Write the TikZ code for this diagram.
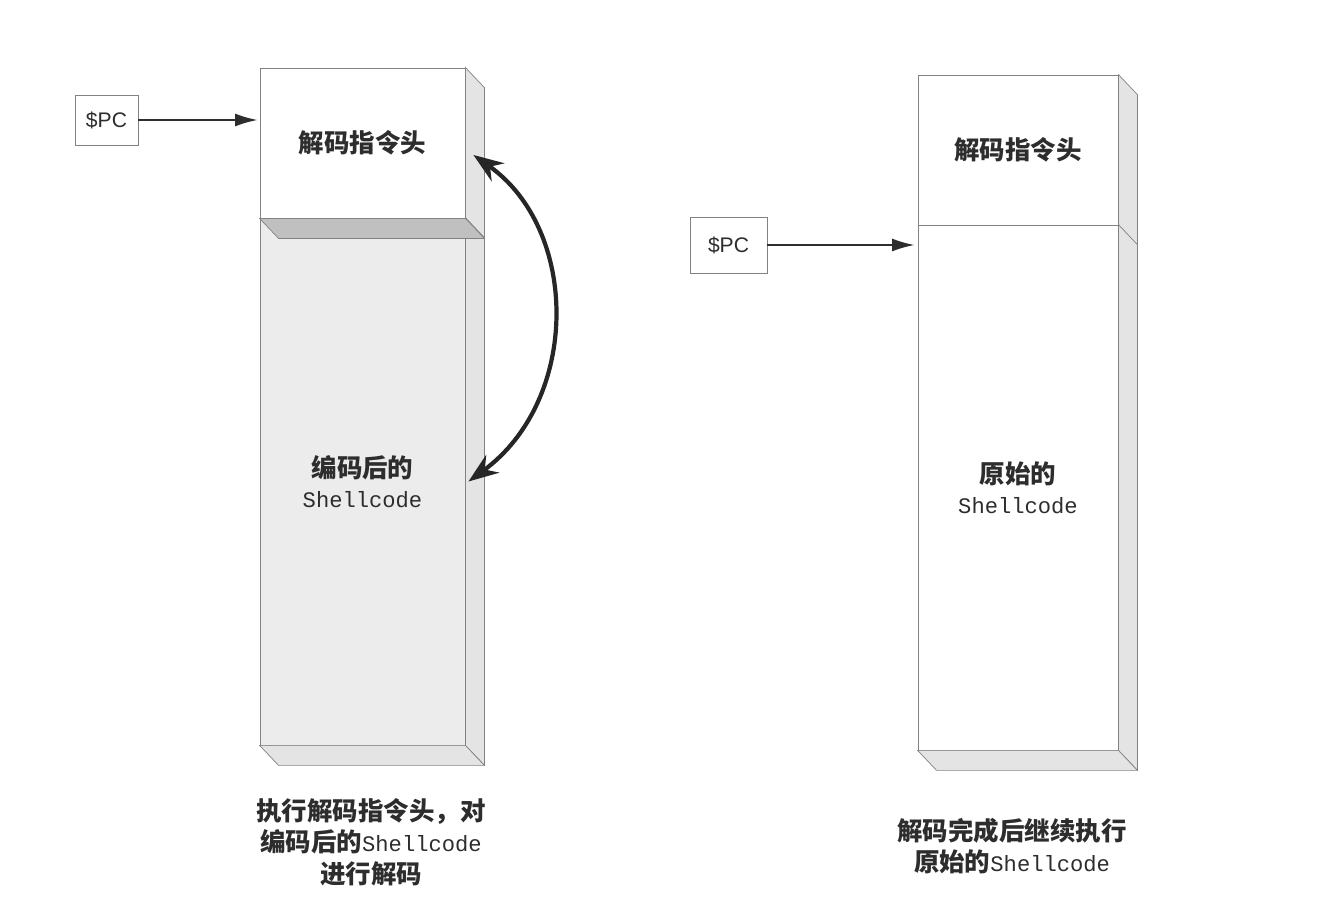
\documentclass[tikz,border=0pt]{standalone}
\usepackage{fontspec}
\setmainfont{Noto Sans CJK SC}
\newfontfamily\latinmono{Liberation Mono}
\newfontfamily\latinsans{Liberation Sans}
\usetikzlibrary{arrows.meta,positioning,calc}
\definecolor{edgegray}{RGB}{130,130,130}
\definecolor{facegray}{RGB}{236,236,236}
\definecolor{sidegray}{RGB}{228,228,228}
\definecolor{stripgray}{RGB}{192,192,192}
\definecolor{inkgray}{RGB}{45,45,45}
\newcommand{\shellcode}{{\latinmono\mdseries\fontsize{12.6}{17}\selectfont Shellcode}}

\begin{document}
\begin{tikzpicture}[x=0.02cm,y=-0.02cm,font=\fontsize{14.5}{17}\selectfont\bfseries,text=inkgray,
 mem/.style={draw=edgegray,line width=0.5pt,inner sep=0pt,align=center},
 pcbox/.style={draw=edgegray,line width=0.5pt,inner sep=0pt,font=\latinsans\fontsize{12}{14}\selectfont},
 face/.style={draw=edgegray,line width=0.4pt,fill=sidegray},
 caption/.style={align=center,font=\fontsize{14.5}{18}\selectfont\bfseries},
 arr/.style={-{Latex[length=4.5mm,width=2.6mm]},line width=1.1pt,draw=inkgray},
 swap/.style={{Stealth[length=6mm,width=4.4mm]}-{Stealth[length=6mm,width=4.4mm]},line width=2.4pt,draw=black!85}]
\useasboundingbox (0,0) rectangle (1342,912);
\node[mem,minimum width=4.1cm,minimum height=3cm] (headL) at (362.5,143) {解码指令头};
\node[mem,fill=facegray,minimum width=4.1cm,minimum height=10.54cm] (bodyL) at (362.5,481.5) {编码后的\\\shellcode};
\node[mem,minimum width=4cm,minimum height=3cm] (headR) at (1018,150) {解码指令头};
\node[mem,minimum width=4cm,minimum height=10.5cm] (bodyR) at (1018,487.5) {原始的\\\shellcode};
\foreach \n in {headL,bodyL,headR,bodyR}
  \draw[face] (\n.north east) -- ++(19,20) -- ($(\n.south east)+(19,20)$) -- (\n.south east) -- cycle;
\foreach \n in {bodyL,bodyR}
  \draw[face] (\n.south west) -- (\n.south east) -- ++(19,20) -- ($(\n.south west)+(19,20)$) -- cycle;
\draw[face,fill=stripgray] (headL.south west) -- (headL.south east) -- ++(19,20) -- ($(headL.south west)+(19,20)$) -- cycle;
\node[pcbox,minimum width=1.26cm,minimum height=1cm] (pcL) at (106.5,120) {\$PC};
\node[pcbox,minimum width=1.54cm,minimum height=1.12cm] (pcR) at (728.5,245) {\$PC};
\draw[arr] (pcL) -- ($(headL.west |- pcL)+(-2,0)$);
\draw[arr] (pcR) -- ($(bodyR.west |- pcR)+(-3,0)$);
\draw[swap] ($(headL.east)+(8,12)$) .. controls (580,230) and (580,400) .. ($(bodyL.east)+(3,0)$);
\node[caption] (capL) at (371,842) {执行解码指令头，对\\编码后的\shellcode\\进行解码};
\node[caption] (capR) at (1012,846) {解码完成后继续执行\\原始的\shellcode};
\end{tikzpicture}
\end{document}
